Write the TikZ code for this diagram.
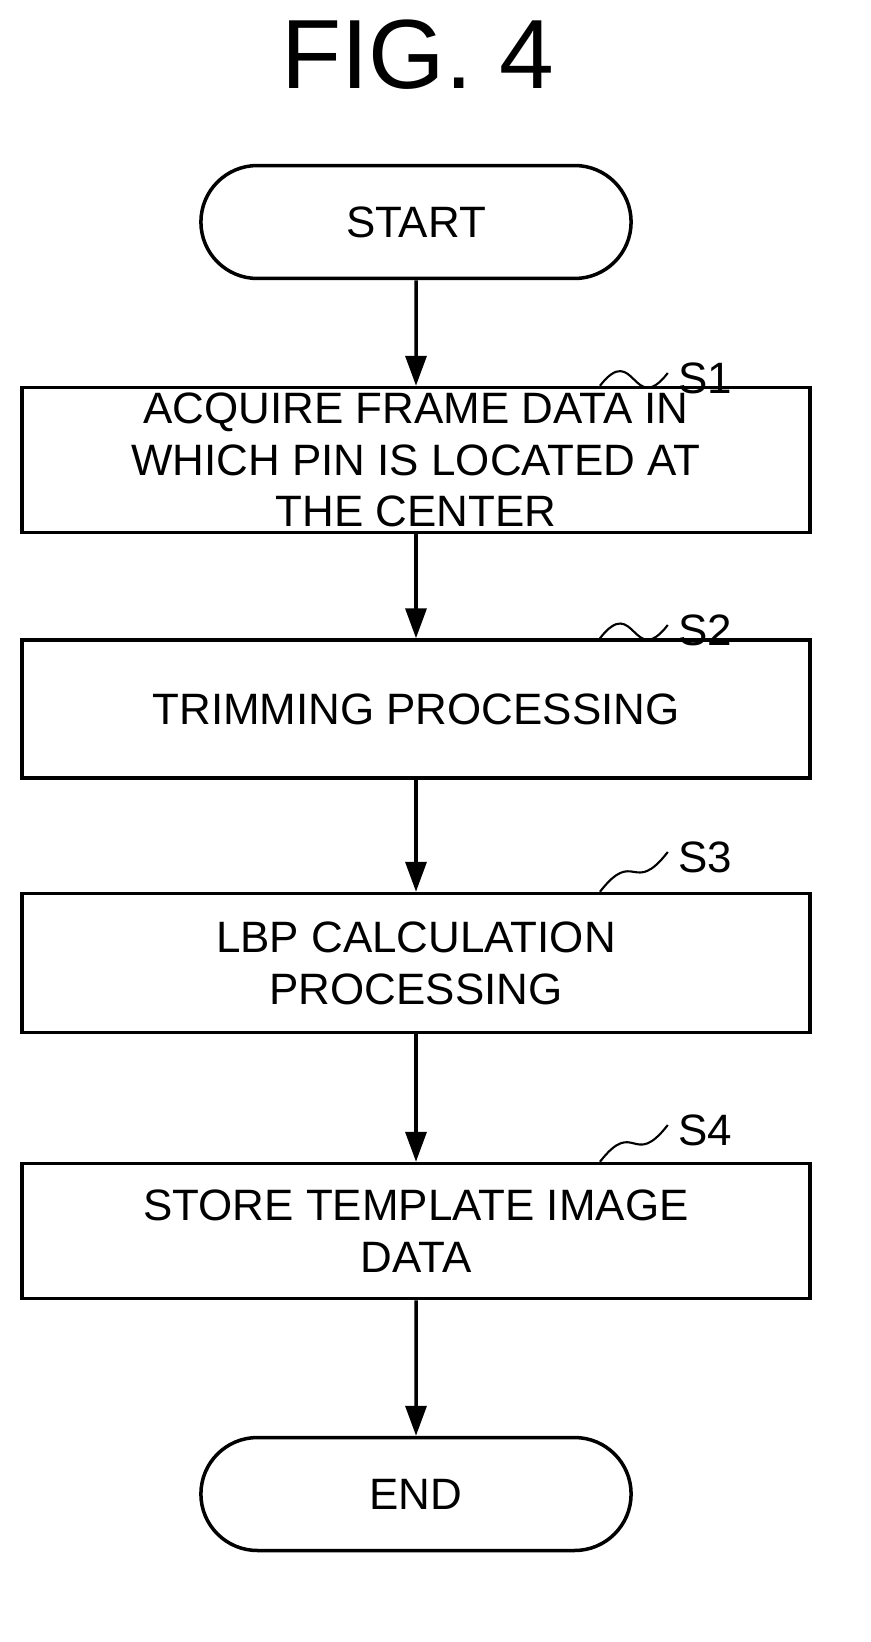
\documentclass[tikz,border=0pt]{standalone}
\usepackage{fontspec}
\setmainfont{Liberation Sans}
\usetikzlibrary{arrows.meta,shapes.misc}
\tikzset{
  proc/.style={draw, line width=2pt, minimum width=15.76cm, align=center,
    font=\fontsize{25}{29.5}\selectfont, inner sep=0pt},
  term/.style={draw, line width=2pt, rounded rectangle, minimum width=8.84cm,
    minimum height=2.26cm, font=\fontsize{25}{29}\selectfont},
  flow/.style={line width=2pt, -{Triangle[length=0.6cm,width=0.42cm]}},
  tag/.style={font=\fontsize{25}{29}\selectfont, inner sep=0pt},
  squig/.style={line width=1.2pt}
}
\begin{document}
\begin{tikzpicture}[x=0.02cm, y=-0.02cm]
  \useasboundingbox (0,0) rectangle (871,1642);
  \node[font=\fontsize{56}{60}\selectfont] (title) at (418,55) {FIG. 4};
  % terminals and steps
  \node[term] (start) at (416,222) {START};
  \node[proc, minimum height=2.9cm] (s1) at (416,460)
    {ACQUIRE FRAME DATA IN\\WHICH PIN IS LOCATED AT\\THE CENTER};
  \node[proc, minimum height=2.76cm] (s2) at (416,709) {TRIMMING PROCESSING};
  \node[proc, minimum height=2.78cm] (s3) at (416,963) {LBP CALCULATION\\PROCESSING};
  \node[proc, minimum height=2.7cm] (s4) at (416,1231) {STORE TEMPLATE IMAGE\\DATA};
  \node[term] (end) at (416,1494) {END};
  % step labels
  \node[tag] (l1) at (705,378) {S1};
  \node[tag] (l2) at (705,630) {S2};
  \node[tag] (l3) at (705,857) {S3};
  \node[tag] (l4) at (705,1130) {S4};
  \foreach \b/\l in {s1/l1, s2/l2, s3/l3, s4/l4}{
    \coordinate (c) at ([xshift=3.68cm]\b.north);
    \draw[squig] (c) .. controls +(0.7cm,0.9cm) and +(-0.7cm,-0.9cm) .. ([xshift=-0.2cm,yshift=0.1cm]\l.west);
  }
  % connectors
  \draw[flow] (start) -- (s1);
  \draw[flow] (s1) -- (s2);
  \draw[flow] (s2) -- (s3);
  \draw[flow] (s3) -- (s4);
  \draw[flow] (s4) -- (end);
\end{tikzpicture}
\end{document}
